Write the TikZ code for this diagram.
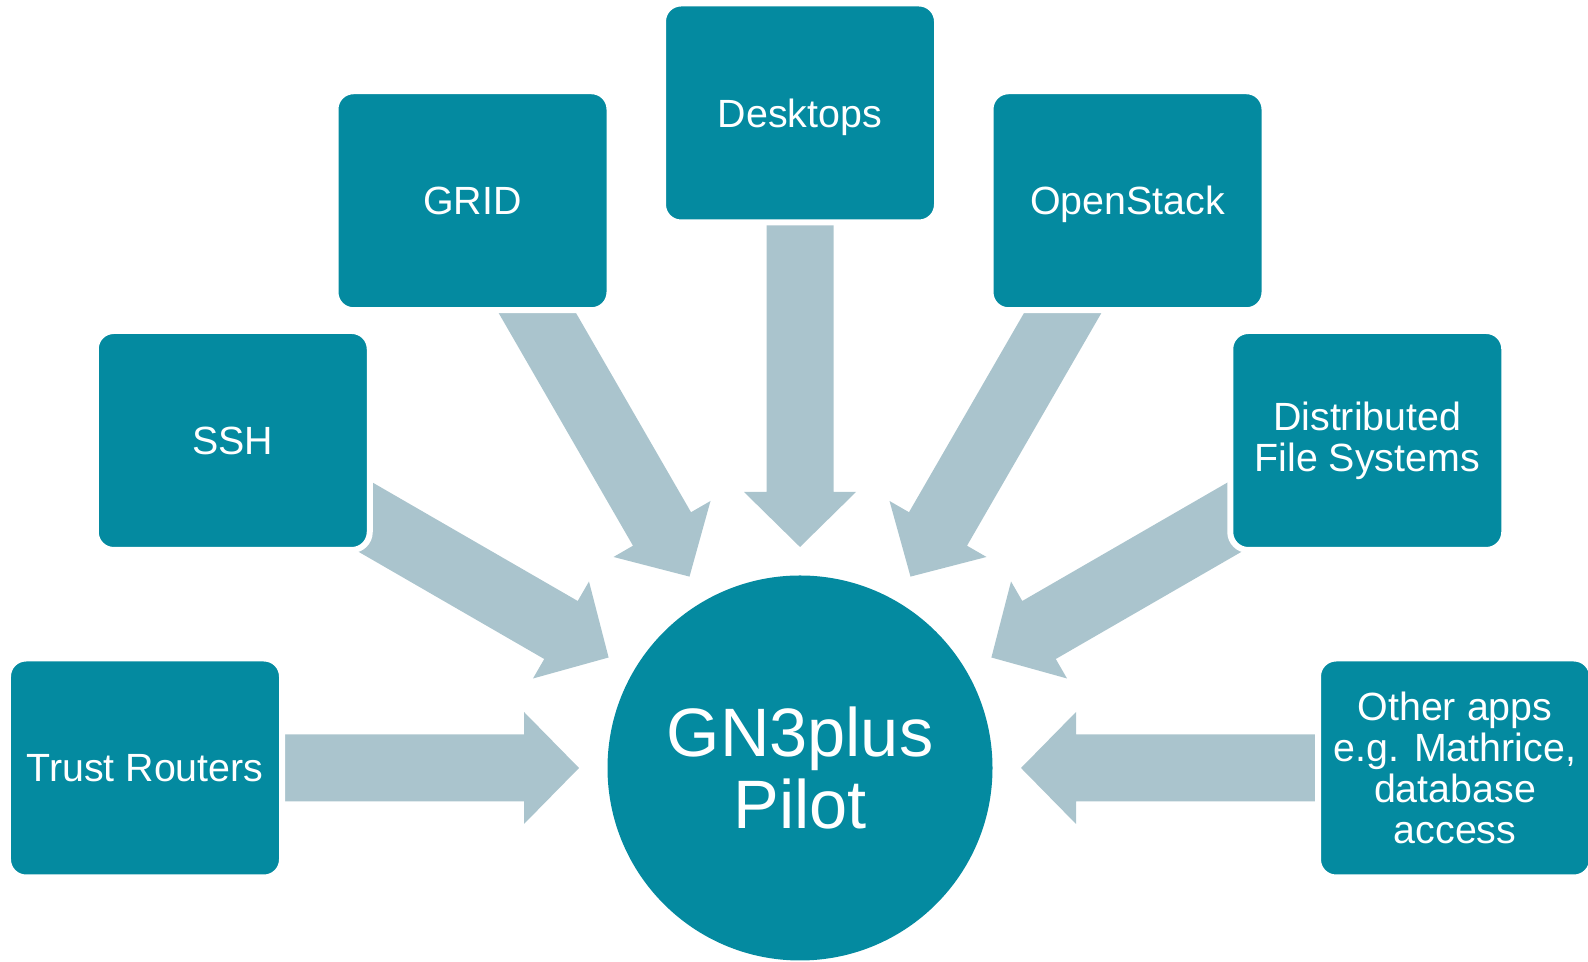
\documentclass[tikz,border=0pt]{standalone}
\usepackage{fontspec}
\setmainfont{Liberation Sans}
\usetikzlibrary{calc,backgrounds}
\definecolor{gnteal}{RGB}{4,138,160}
\definecolor{gngrey}{RGB}{170,196,205}
\tikzset{
	appbox/.style={rectangle, rounded corners=0.18cm, fill=gnteal, draw=white, line width=0.06cm,
		minimum width=2.74cm, minimum height=2.19cm, inner sep=0pt, text=white, align=center,
		font=\fontsize{11.2}{11.6}\selectfont},
	pilot/.style={circle, fill=gnteal, minimum size=3.85cm, inner sep=0pt, text=white, align=center,
		font=\fontsize{19.5}{20.4}\selectfont},
	arrowfill/.style={fill=gngrey}
}
\def\blockarrow(#1)(#2){%
	\coordinate (tip) at ($(#1.center)!2.21cm!(#2.center)$);
	\coordinate (neck) at ($(#1.center)!2.76cm!(#2.center)$);
	\coordinate (tail) at ($(#1.center)!5.8cm!(#2.center)$);
	\fill[arrowfill] (tip) -- ($(neck)!0.56cm!90:(#2.center)$) -- ($(neck)!0.335cm!90:(#2.center)$)
		-- ($(tail)!0.335cm!90:(#2.center)$) -- ($(tail)!0.335cm!-90:(#2.center)$)
		-- ($(neck)!0.335cm!-90:(#2.center)$) -- ($(neck)!0.56cm!-90:(#2.center)$) -- cycle;
}

\begin{document}
\begin{tikzpicture}
	%%%%% START %%%%%
	\useasboundingbox (0,0) rectangle (15.88,9.62);
	
	\node[pilot] (hub) at (8, 1.94) {GN3plus\\Pilot};
	
	\node[appbox] (trust) at ([shift={(180:6.55)}]hub.center) {Trust Routers};
	\node[appbox] (ssh) at ([shift={(150:6.55)}]hub.center) {SSH};
	\node[appbox] (grid) at ([shift={(120:6.55)}]hub.center) {GRID};
	\node[appbox, text depth=0pt] (desktops) at ([shift={(90:6.55)}]hub.center) {Desktops};
	\node[appbox, text depth=0pt] (openstack) at ([shift={(60:6.55)}]hub.center) {OpenStack};
	\node[appbox] (dfs) at ([shift={(30:6.55)}]hub.center) {Distributed\\File Systems};
	\node[appbox] (other) at ([shift={(0:6.55)}]hub.center) {Other apps\\e.g. Mathrice,\\database\\access};
	
	\begin{pgfonlayer}{background}
		\blockarrow(hub)(trust)
		\blockarrow(hub)(ssh)
		\blockarrow(hub)(grid)
		\blockarrow(hub)(desktops)
		\blockarrow(hub)(openstack)
		\blockarrow(hub)(dfs)
		\blockarrow(hub)(other)
	\end{pgfonlayer}
	
	%%%%% END %%%%%
\end{tikzpicture}
\end{document}
